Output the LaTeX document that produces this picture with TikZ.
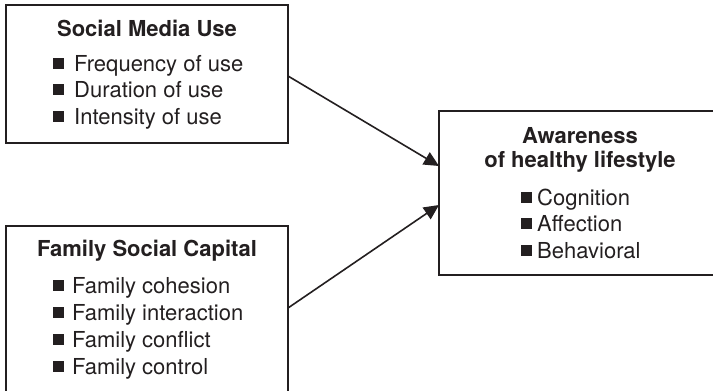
\documentclass[tikz,border=0pt]{standalone}
\usepackage{fontspec}
\setmainfont{TeX Gyre Heros}
\usetikzlibrary{arrows.meta}
\definecolor{ink}{HTML}{231F20}
\newcommand{\sqb}{\textcolor{ink}{\rule[0.11em]{0.5em}{0.5em}}}
\tikzset{
  frame/.style={draw=ink, line width=2pt, rectangle, inner sep=0pt},
  ttl/.style={text=ink, font=\fontsize{22}{24}\selectfont\bfseries, anchor=base, inner sep=0pt},
  itm/.style={text=ink, font=\fontsize{22}{27}\selectfont, anchor=base west, inner sep=0pt},
  link/.style={draw=ink, line width=1.6pt, -{Triangle[length=15pt,width=14pt]}}
}
\begin{document}
\begin{tikzpicture}[x=1pt,y=-1pt]
\useasboundingbox (0,0) rectangle (713,391);
\clip (0,0) rectangle (713,391);
% boxes
\node[frame, minimum width=282pt, minimum height=138pt] (smu) at (147,74) {};
\node[frame, minimum width=282pt, minimum height=190pt] (fsc) at (147,321) {};
\node[frame, minimum width=290pt, minimum height=164.5pt] (ahl) at (584,192.75) {};
% box 1 texts
\node[ttl] (t1) at (147,36.7) {Social Media Use};
\node[itm] (a1) at (53,71.7) {\sqb\hspace{10pt}Frequency of use};
\node[itm] (a2) at (53,97.9) {\sqb\hspace{10pt}Duration of use};
\node[itm] (a3) at (53,124.1) {\sqb\hspace{10pt}Intensity of use};
% box 2 texts
\node[ttl] (t2) at (147,256.7) {Family Social Capital};
\node[itm] (b1) at (53,293) {\sqb\hspace{8pt}Family cohesion};
\node[itm] (b2) at (53,320.3) {\sqb\hspace{8pt}Family interaction};
\node[itm] (b3) at (53,347.6) {\sqb\hspace{8pt}Family conflict};
\node[itm] (b4) at (53,374.9) {\sqb\hspace{8pt}Family control};
% box 3 texts
\node[ttl] (t3a) at (580,143.3) {Awareness};
\node[ttl] (t3b) at (580,167.3) {of healthy lifestyle};
\node[itm] (c1) at (521,205) {\sqb\hspace{5pt}Cognition};
\node[itm] (c2) at (521,231.7) {\sqb\hspace{5pt}Affection};
\node[itm] (c3) at (521,258.4) {\sqb\hspace{5pt}Behavioral};
% connectors
\coordinate (s1) at (288,76);
\coordinate (e1) at (439,166);
\coordinate (s2) at (288,308);
\coordinate (e2) at (439,205);
\draw[link] (s1) -- (e1);
\draw[link] (s2) -- (e2);
\end{tikzpicture}
\end{document}
